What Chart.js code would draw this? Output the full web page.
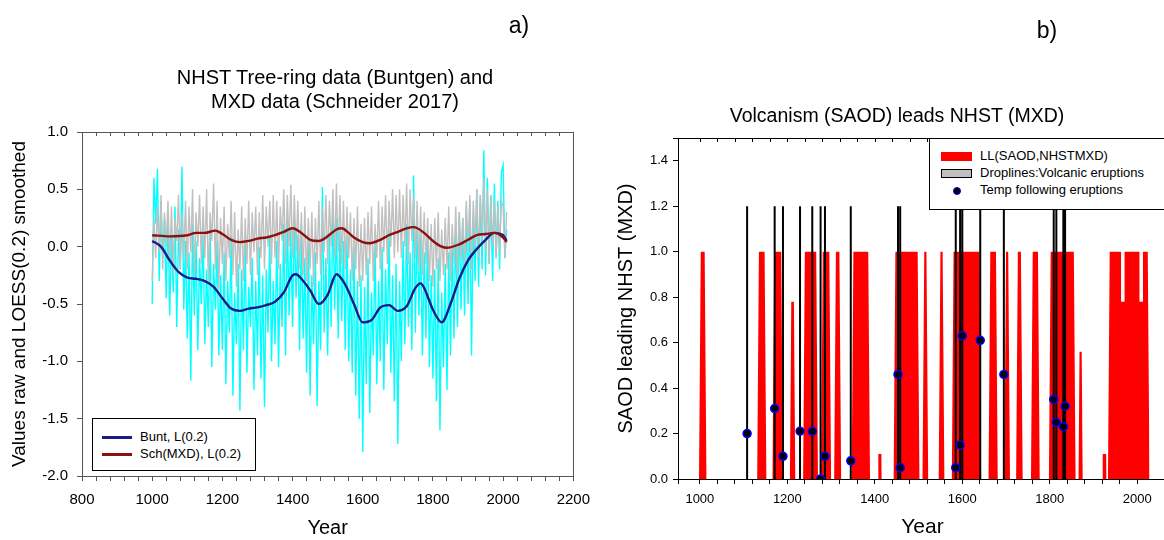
<!DOCTYPE html>
<html>
<head>
<meta charset="utf-8">
<script src="https://cdn.jsdelivr.net/npm/chart.js@4.4.1/dist/chart.umd.min.js"></script>
<style>
  html, body { margin:0; padding:0; background:#fff; }
  body { width:1164px; height:540px; overflow:hidden; position:relative; font-family:"Liberation Sans", Arial, sans-serif; color:#000; }
  canvas { position:absolute; top:0; }
  .txt { position:absolute; white-space:nowrap; transform:translate(-50%,-50%); text-align:center; }
  .legend { position:absolute; background:#fff; border:1px solid #000; box-sizing:border-box; font-size:13px; }
  .legend .row { position:absolute; white-space:nowrap; }
</style>
</head>
<body>
<canvas id="chartA" width="600" height="540" style="left:0px"></canvas>
<canvas id="chartB" width="600" height="540" style="left:600px"></canvas>

<div class="txt" style="left:519px; top:25px; font-size:23px;">a)</div>
<div class="txt" style="left:1047px; top:30px; font-size:23px;">b)</div>
<div class="txt" style="left:335px; top:89px; font-size:20px; line-height:24px;">NHST Tree-ring data (Buntgen) and<br>MXD data (Schneider 2017)</div>
<div class="txt" style="left:897px; top:115px; font-size:19.5px;">Volcanism (SAOD) leads NHST (MXD)</div>

<div class="legend" style="left:92px; top:418px; width:164px; height:53px;">
  <div class="row" style="left:9px; top:10px;"><span style="display:inline-block;width:30px;height:3px;background:#1a1a8a;vertical-align:middle;margin-right:8px;"></span>Bunt, L(0.2)</div>
  <div class="row" style="left:9px; top:27px;"><span style="display:inline-block;width:30px;height:3px;background:#8b1010;vertical-align:middle;margin-right:8px;"></span>Sch(MXD), L(0.2)</div>
</div>

<div class="legend" style="left:929px; top:138px; width:240px; height:72px;">
  <div class="row" style="left:11px; top:9px;"><span style="display:inline-block;width:31px;height:9px;background:#ff0000;vertical-align:middle;margin-right:8px;"></span>LL(SAOD,NHSTMXD)</div>
  <div class="row" style="left:11px; top:26px;"><span style="display:inline-block;width:29px;height:7px;background:#c0c0c0;border:1px solid #000;vertical-align:middle;margin-right:8px;"></span>Droplines:Volcanic eruptions</div>
  <div class="row" style="left:11px; top:43px;"><span style="display:inline-block;width:31px;text-align:center;vertical-align:middle;margin-right:8px;"><span style="display:inline-block;width:6px;height:6px;border-radius:50%;background:#000;border:1px solid #0000ff;"></span></span>Temp following eruptions</div>
</div>

<script>
// ---------------- Panel a) data ----------------
const rawStartYear = 1000;
const rawStepYears = 5;
// Buntgen tree-ring raw values (cyan), one every 5 years from 1000 to 2010
const buntRaw = [
  -0.50, 0.60, 0.20, 0.68,-0.30, 0.40,-0.10, 0.25,-0.45, 0.30,
  -0.60, 0.10,-0.40, 0.35,-0.70, 0.15,-0.20, 0.70,-0.55, 0.05,
  -0.80,-0.05,-1.17, 0.20,-0.60, 0.05,-0.90,-0.10,-0.50, 0.10,
  -0.85,-0.20,-0.70, 0.15,-1.05,-0.15,-0.55, 0.05,-0.95,-0.25,
  -0.90,-0.05,-1.20,-0.30,-0.75, 0.10,-1.30,-0.40,-0.85,-0.15,
  -1.43,-0.20,-0.90, 0.05,-1.10,-0.35,-0.70,-0.10,-1.25,-0.30,
  -0.95, 0.00,-1.15,-0.25,-1.40,-0.20,-0.75, 0.10,-1.00,-0.30,
  -0.85, 0.05,-1.05,-0.15,-0.70, 0.20,-0.95, 0.30,-0.60, 0.15,
  -0.70, 0.25,-0.45, 0.10,-0.90, 0.20,-0.80,-0.10,-1.10, 0.05,
  -1.30,-0.25,-0.85,-0.05,-1.39,-0.30,-0.90, 0.52,-0.75,-0.10,
  -0.95, 0.10,-0.70, 0.40,-0.55, 0.25,-0.80, 0.15,-0.65, 0.05,
  -0.90, 0.10,-1.00,-0.20,-1.10, 0.00,-1.30,-0.30,-1.50,-0.25,
  -1.79,-0.35,-1.20,-0.10,-1.45,-0.40,-0.95, 0.05,-1.20,-0.30,
  -1.00, 0.00,-1.25,-0.20,-0.85, 0.15,-1.10,-0.25,-1.35,-0.15,
  -1.72,-0.30,-1.00, 0.05,-0.85, 0.20,-0.70,-0.05,-0.90, 0.62,
  -0.75, 0.30,-0.60, 0.10,-0.95,-0.05,-0.80, 0.15,-1.05,-0.25,
  -1.15,-0.20,-1.35,-0.10,-1.60,-0.40,-1.05,-0.15,-1.25,-0.05,
  -0.95, 0.05,-0.80, 0.20,-0.70, 0.30,-0.55, 0.25,-0.60, 0.35,
  -0.50, 0.40,-0.95, 0.30,-0.30, 0.50,-0.35, 0.45,-0.20, 0.84,
  -0.25, 0.60,-0.15, 0.45,-0.30, 0.55,-0.10, 0.40,-0.20, 0.65,
   0.71,-0.10, 0.15
];
// Schneider 2017 MXD raw values (grey), one every 5 years from 1000 to 2010
const schRaw = [
  -0.30, 0.25,-0.10, 0.35,-0.05, 0.45,-0.20, 0.30, 0.00, 0.40,
  -0.15, 0.35,-0.25, 0.25, 0.05, 0.45,-0.20, 0.30,-0.10, 0.40,
  -0.20, 0.35,-0.05, 0.50,-0.25, 0.30, 0.00, 0.45,-0.15, 0.35,
  -0.10, 0.50,-0.30, 0.30, 0.05, 0.55,-0.20, 0.40,-0.37, 0.25,
  -0.15, 0.35,-0.30, 0.20,-0.10, 0.40,-0.25, 0.30,-0.35, 0.15,
  -0.20, 0.35,-0.30, 0.25,-0.15, 0.40,-0.25, 0.30,-0.05, 0.35,
  -0.25, 0.30,-0.10, 0.45,-0.20, 0.35, 0.00, 0.40,-0.15, 0.45,
  -0.10, 0.40,-0.20, 0.35, 0.05, 0.50,-0.15, 0.45, 0.00, 0.54,
  -0.10, 0.45,-0.05, 0.40,-0.20, 0.30,-0.25, 0.35,-0.30, 0.25,
  -0.20, 0.30,-0.35, 0.25,-0.15, 0.40,-0.25, 0.35,-0.05, 0.45,
  -0.15, 0.40, 0.00, 0.50,-0.10, 0.55,-0.05, 0.45,-0.15, 0.40,
  -0.20, 0.35,-0.10, 0.30,-0.30, 0.25,-0.20, 0.35,-0.35, 0.20,
  -0.30, 0.25,-0.25, 0.30,-0.15, 0.35,-0.30, 0.20,-0.10, 0.40,
  -0.20, 0.35,-0.05, 0.45,-0.15, 0.40, 0.00, 0.50,-0.10, 0.45,
  -0.05, 0.50,-0.10, 0.45, 0.00, 0.55,-0.15, 0.50, 0.05, 0.45,
  -0.10, 0.40,-0.20, 0.35,-0.25, 0.30,-0.15, 0.25,-0.30, 0.20,
  -0.35, 0.25,-0.20, 0.30,-0.30, 0.15,-0.25, 0.25,-0.20, 0.35,
  -0.30, 0.20,-0.15, 0.35,-0.25, 0.30,-0.10, 0.25,-0.20, 0.40,
  -0.05, 0.45,-0.20, 0.40, 0.00, 0.50,-0.10, 0.45, 0.05, 0.60,
  -0.05, 0.50,-0.15, 0.45, 0.00, 0.40,-0.10, 0.35,-0.05, 0.40,
   0.35,-0.10, 0.30
];
// LOESS(0.2) smoothed curves
const buntSmoothYears = [1000,1025,1050,1075,1100,1125,1150,1175,1200,1225,1250,1275,1300,1325,1350,1375,1400,1410,1425,1450,1475,1500,1525,1550,1575,1600,1625,1650,1675,1700,1725,1750,1765,1775,1800,1825,1850,1875,1900,1925,1950,1975,2000,2010];
const buntSmooth = [0.05,0.00,-0.12,-0.22,-0.27,-0.28,-0.30,-0.35,-0.45,-0.54,-0.56,-0.54,-0.53,-0.51,-0.48,-0.40,-0.25,-0.24,-0.28,-0.38,-0.50,-0.42,-0.24,-0.33,-0.50,-0.66,-0.64,-0.53,-0.51,-0.56,-0.52,-0.36,-0.32,-0.36,-0.55,-0.66,-0.50,-0.28,-0.12,-0.02,0.06,0.12,0.10,0.05];
const schSmoothYears = [1000,1050,1100,1125,1150,1180,1200,1225,1250,1275,1300,1325,1350,1375,1400,1425,1450,1475,1500,1525,1540,1560,1575,1600,1620,1650,1675,1700,1725,1745,1775,1800,1825,1840,1875,1900,1925,1950,1975,2000,2010];
const schSmooth = [0.10,0.09,0.10,0.12,0.12,0.14,0.11,0.06,0.04,0.05,0.07,0.08,0.10,0.13,0.16,0.12,0.06,0.05,0.09,0.15,0.16,0.12,0.08,0.04,0.03,0.06,0.10,0.13,0.16,0.17,0.12,0.05,0.00,-0.01,0.02,0.06,0.10,0.11,0.12,0.08,0.04];

// ---------------- Panel b) data ----------------
// LL(SAOD,NHSTMXD) blocks: start year, end year, level
const llStart = [1002,1135,1170,1209,1240,1281,1311,1351,1408,1447,1513,1550,1580,1664,1700,1727,1761,1802,1868,1921,1937,1963,1971,2005,2013];
const llEnd   = [1011,1148,1186,1215,1266,1296,1319,1385,1415,1498,1518,1555,1639,1677,1705,1734,1773,1855,1873,1929,1963,1971,2005,2013,2024];
const llLevel = [1.0, 1.0, 1.0, 0.78,1.0, 1.0, 1.0, 1.0, 0.11,1.0, 1.0, 1.0, 1.0, 1.0, 1.0, 1.0, 1.0, 1.0, 0.56,0.11,1.0, 0.78,1.0, 0.78,1.0];
// Volcanic eruptions (droplines) and temperature following eruptions (dots)
const eruptionYears = [1108,1171,1190,1229,1257,1276,1286,1345,1453,1458,1585,1595,1600,1641,1695,1809,1815,1831,1835];
const eruptionTemp  = [0.20,0.31,0.10,0.21,0.21,0.00,0.10,0.08,0.46,0.05,0.05,0.15,0.63,0.61,0.46,0.35,0.25,0.23,0.32];
const droplineTop = 1.2;

// ---------------- build library data ----------------
const toXY = (xs, ys) => ys.map((v, i) => ({x: xs[i], y: v}));
const rawYears = buntRaw.map((_, i) => rawStartYear + i * rawStepYears);

function llPolygon() {
  const pts = [];
  for (let i = 0; i < llStart.length; i++) {
    const s = llStart[i], e = llEnd[i], v = llLevel[i];
    const ramp = 4 * v;
    const joinedPrev = i > 0 && llEnd[i - 1] === s;
    const joinedNext = i < llStart.length - 1 && llStart[i + 1] === e;
    if (!joinedPrev) pts.push({x: s - ramp, y: 0});
    pts.push({x: s, y: v});
    pts.push({x: e, y: v});
    if (!joinedNext) pts.push({x: e + ramp, y: 0});
  }
  return pts;
}
function droplineData() {
  const pts = [];
  eruptionYears.forEach(yr => {
    pts.push({x: yr, y: 0});
    pts.push({x: yr, y: droplineTop});
    pts.push({x: yr, y: null});
  });
  return pts;
}

const FONT = '"Liberation Sans", Arial, sans-serif';

const framePlugin = {
  id: 'frame',
  afterDatasetsDraw(chart, args, opts) {
    const {ctx, chartArea: a, scales} = chart;
    ctx.save();
    ctx.strokeStyle = opts.color;
    ctx.lineWidth = 1;
    ctx.strokeRect(Math.round(a.left) + 0.5, Math.round(a.top) + 0.5, Math.round(a.right - a.left), Math.round(a.bottom - a.top));
    const xs = scales.x;
    ctx.beginPath();
    xs.ticks.forEach(t => {
      const px = Math.round(xs.getPixelForValue(t.value)) + 0.5;
      if (px > a.left + 1 && px < a.right - 1) {
        ctx.moveTo(px, a.top);
        ctx.lineTo(px, a.top + opts.tick);
      }
    });
    ctx.stroke();
    ctx.restore();
  }
};

// ---------------- chart a ----------------
new Chart(document.getElementById('chartA'), {
  type: 'line',
  data: {
    datasets: [
      { label: 'Bunt raw', data: toXY(rawYears, buntRaw), borderColor: '#00ffff', borderWidth: 1.4, pointRadius: 0, tension: 0, order: 4 },
      { label: 'Sch raw', data: toXY(rawYears, schRaw), borderColor: '#c0c0c0', borderWidth: 1.4, pointRadius: 0, tension: 0, order: 3 },
      { label: 'Bunt, L(0.2)', data: toXY(buntSmoothYears, buntSmooth), borderColor: '#1a1a8a', borderWidth: 2.4, pointRadius: 0, cubicInterpolationMode: 'monotone', order: 2 },
      { label: 'Sch(MXD), L(0.2)', data: toXY(schSmoothYears, schSmooth), borderColor: '#8b1010', borderWidth: 2.4, pointRadius: 0, cubicInterpolationMode: 'monotone', order: 1 }
    ]
  },
  options: {
    responsive: false,
    animation: false,
    devicePixelRatio: 1,
    layout: { padding: { left: 0, top: 132, right: 26, bottom: 0 } },
    plugins: { legend: { display: false }, tooltip: { enabled: false }, frame: { color: '#555', tick: 4 } },
    scales: {
      x: {
        type: 'linear', min: 800, max: 2200, offset: false,
        afterFit: s => { s.height = 64; },
        grid: { drawOnChartArea: false, drawTicks: true, tickLength: 5, color: '#555' },
        border: { color: '#555' },
        ticks: { stepSize: 40, autoSkip: false, maxRotation: 0, padding: 10, color: '#000',
                 font: { family: FONT, size: 15 },
                 callback: v => (v % 200 === 0 ? String(v) : '') },
        title: { display: true, text: 'Year', color: '#000', font: { family: FONT, size: 20, lineHeight: 1.2 }, padding: { top: 0, bottom: 0 } }
      },
      y: {
        type: 'linear', min: -2, max: 1,
        afterFit: s => { s.width = 82; },
        grid: { drawOnChartArea: false, drawTicks: true, tickLength: 5, color: '#555' },
        border: { color: '#555' },
        ticks: { stepSize: 0.5, padding: 9, color: '#000', font: { family: FONT, size: 15 },
                 callback: v => Number(v).toFixed(1) },
        title: { display: true, text: 'Values raw and LOESS(0.2) smoothed', color: '#000', font: { family: FONT, size: 19, lineHeight: 1.2 }, padding: { top: 8, bottom: 0 } }
      }
    }
  },
  plugins: [framePlugin]
});

// ---------------- chart b ----------------
new Chart(document.getElementById('chartB'), {
  type: 'line',
  data: {
    datasets: [
      { label: 'LL(SAOD,NHSTMXD)', data: llPolygon(), borderColor: 'rgba(0,0,0,0)', borderWidth: 0, backgroundColor: '#ff0000', fill: 'origin', pointRadius: 0, tension: 0, order: 3 },
      { label: 'Droplines:Volcanic eruptions', data: droplineData(), borderColor: '#000', borderWidth: 2, pointRadius: 0, spanGaps: false, fill: false, order: 2 },
      { label: 'Temp following eruptions', data: toXY(eruptionYears, eruptionTemp), showLine: false, pointRadius: 4, pointBackgroundColor: '#000', pointBorderColor: '#0000ff', pointBorderWidth: 1.5, order: 1 }
    ]
  },
  options: {
    responsive: false,
    animation: false,
    devicePixelRatio: 1,
    layout: { padding: { left: 0, top: 138, right: 33, bottom: 0 } },
    plugins: { legend: { display: false }, tooltip: { enabled: false }, frame: { color: '#000', tick: 4 } },
    scales: {
      x: {
        type: 'linear', min: 950, max: 2068, offset: false,
        afterFit: s => { s.height = 61; },
        grid: { drawOnChartArea: false, drawTicks: true, tickLength: 5, color: '#000' },
        border: { color: '#000' },
        ticks: { stepSize: 40, autoSkip: false, maxRotation: 0, padding: 8, color: '#000',
                 font: { family: FONT, size: 13 },
                 callback: v => (Math.abs(v % 200) < 0.001 ? String(v) : '') },
        title: { display: true, text: 'Year', color: '#000', font: { family: FONT, size: 21, lineHeight: 1.2 }, padding: { top: 0, bottom: 0 } }
      },
      y: {
        type: 'linear', min: 0, max: 1.5,
        afterFit: s => { s.width = 78; },
        grid: { drawOnChartArea: false, drawTicks: true, tickLength: 5, color: '#000' },
        border: { color: '#000' },
        ticks: { stepSize: 0.2, padding: 5, color: '#000', font: { family: FONT, size: 13 },
                 callback: v => (v > 1.45 ? '' : Number(v).toFixed(1)) },
        title: { display: true, text: 'SAOD leading NHST (MXD)', color: '#000', font: { family: FONT, size: 20, lineHeight: 1.2 }, padding: { top: 14, bottom: 0 } }
      }
    }
  },
  plugins: [framePlugin]
});
</script>
</body>
</html>
